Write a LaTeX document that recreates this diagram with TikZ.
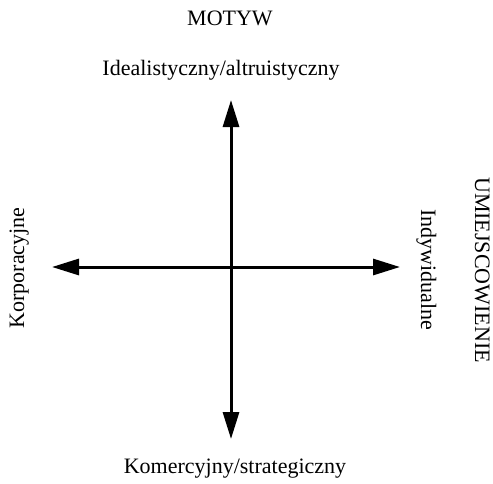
\documentclass[tikz,border=0pt]{standalone}
\usepackage{fontspec}
\setmainfont{Liberation Serif}
\usetikzlibrary{arrows.meta}
\begin{document}
\begin{tikzpicture}[x=1pt,y=-1pt,
  axis/.style={line width=3pt,{Triangle[length=27pt,width=16pt]}-{Triangle[length=27pt,width=16pt]}},
  lbl/.style={inner sep=0pt,anchor=base,font=\fontsize{22}{26}\selectfont}]
  \useasboundingbox (0,0) rectangle (493,483);
  % axis end points
  \coordinate (top) at (231,100);
  \coordinate (bottom) at (231,439);
  \coordinate (left) at (52,267);
  \coordinate (right) at (400,267);
  % axes
  \draw[axis] (bottom) -- (top);
  \draw[axis] (left) -- (right);
  % labels
  \node[lbl] (motyw) at (230,25) {MOTYW};
  \node[lbl] (ideal) at (221,75) {Idealistyczny/altruistyczny};
  \node[lbl] (komerc) at (235,473) {Komercyjny/strategiczny};
  \node[lbl,rotate=90] (korp) at (24,268) {Korporacyjne};
  \node[lbl,rotate=-90] (indyw) at (421,270) {Indywidualne};
  \node[lbl,rotate=-90] (umiej) at (475,270) {UMIEJSCOWIENIE};
\end{tikzpicture}
\end{document}
